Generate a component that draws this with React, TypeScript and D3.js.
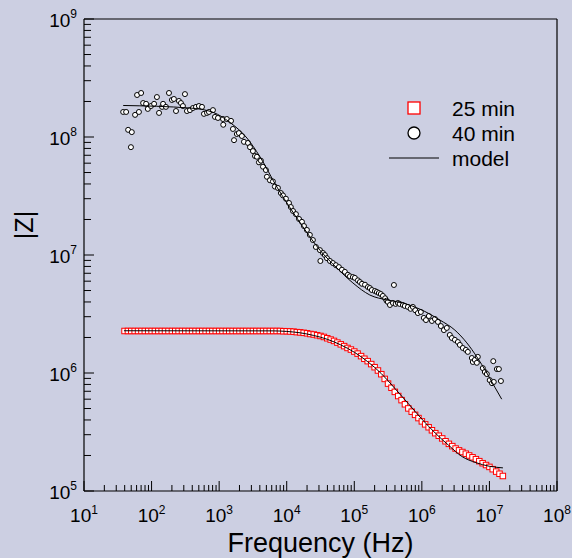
import React from "react";
import * as d3 from "d3";

// ---- data ----
const red25F = [
  39.8, 44.7, 50.1, 56.2, 63.1, 70.8, 79.4, 89.1,
  100, 112, 126, 141, 158, 178, 200, 224, 251, 282, 316, 355, 398, 447, 501, 562, 631, 708, 794, 891,
  1000, 1120, 1260, 1410, 1580, 1780, 2000, 2240, 2510, 2820, 3160, 3550, 3980, 4470, 5010, 5620, 6310, 7080, 7940, 8910,
  1e4, 1.12e4, 1.26e4, 1.41e4, 1.58e4, 1.78e4, 2e4, 2.24e4, 2.51e4, 2.82e4, 3.16e4, 3.55e4, 3.98e4, 4.47e4, 5.01e4, 5.62e4, 6.31e4, 7.08e4, 7.94e4, 8.91e4,
  1e5, 1.12e5, 1.26e5, 1.41e5, 1.58e5, 1.78e5, 2e5, 2.24e5, 2.51e5, 2.82e5, 3.16e5, 3.55e5, 3.98e5, 4.47e5, 5.01e5, 5.62e5, 6.31e5, 7.08e5, 7.94e5, 8.91e5,
  1e6, 1.12e6, 1.26e6, 1.41e6, 1.58e6, 1.78e6, 2e6, 2.24e6, 2.51e6, 2.82e6, 3.16e6, 3.55e6, 3.98e6, 4.47e6, 5.01e6, 5.62e6, 6.31e6, 7.08e6, 7.94e6, 8.91e6,
  1e7, 1.12e7, 1.26e7, 1.41e7, 1.58e7,
];
const red25Z = [
  2.27e6, 2.27e6, 2.27e6, 2.27e6, 2.27e6, 2.27e6, 2.27e6, 2.27e6,
  2.27e6, 2.27e6, 2.27e6, 2.27e6, 2.27e6, 2.27e6, 2.27e6, 2.27e6, 2.27e6, 2.27e6, 2.27e6, 2.27e6, 2.27e6, 2.27e6, 2.27e6, 2.27e6, 2.27e6, 2.27e6, 2.27e6, 2.27e6,
  2.27e6, 2.27e6, 2.27e6, 2.27e6, 2.27e6, 2.27e6, 2.27e6, 2.27e6, 2.27e6, 2.27e6, 2.27e6, 2.27e6, 2.27e6, 2.27e6, 2.27e6, 2.27e6, 2.27e6, 2.27e6, 2.27e6, 2.26e6,
  2.26e6, 2.25e6, 2.24e6, 2.22e6, 2.21e6, 2.19e6, 2.17e6, 2.14e6, 2.12e6, 2.09e6, 2.06e6, 2.02e6, 1.97e6, 1.92e6, 1.87e6, 1.81e6, 1.75e6, 1.69e6, 1.63e6, 1.58e6,
  1.52e6, 1.46e6, 1.39e6, 1.32e6, 1.26e6, 1.19e6, 1.12e6, 1.05e6, 9.77e5, 8.91e5, 8.13e5, 7.5e5, 6.92e5, 6.38e5, 5.89e5, 5.43e5, 5.01e5, 4.7e5, 4.42e5, 4.15e5,
  3.89e5, 3.67e5, 3.47e5, 3.27e5, 3.09e5, 2.94e5, 2.79e5, 2.64e5, 2.51e5, 2.4e5, 2.29e5, 2.21e5, 2.14e5, 2.07e5, 2.0e5, 1.93e5, 1.86e5, 1.79e5, 1.72e5, 1.66e5,
  1.6e5, 1.53e5, 1.46e5, 1.4e5, 1.34e5,
];

const black40F = [
  38, 42, 45, 49.5, 51, 57, 61, 65, 70, 75, 83, 88, 98, 109, 120, 129, 143, 148, 163, 181, 200, 214, 230, 254, 272, 291, 312, 334, 370, 409,
  454, 502, 557, 596, 661, 707, 810, 867, 960, 1140, 1150, 1300, 1500, 1600, 1660, 1830, 1960, 2170, 2330, 2670, 2860, 3160, 3390, 3620, 3880, 4150,
  4450, 4920, 5090, 5640, 6250, 6680, 7410, 8200, 8790, 9730, 10800, 11500, 12400, 13700, 15200, 16800, 18000, 19900, 22000, 24400, 27000, 31000,
  31500, 34400, 36700, 39400, 43600, 48200, 53400, 59200, 65600, 72600, 80400, 86100, 95300, 102000, 113000, 121000, 130000, 144000, 159000,
  170000, 182000, 202000, 216000, 231000, 247000, 265000, 286000, 300000, 314000, 337000, 373000, 386000, 410000, 442000, 470000, 524000, 560000,
  621000, 680000, 736000, 800000, 873000, 966000, 1.07e6, 1.15e6, 1.27e6, 1.41e6, 1.56e6, 1.73e6, 1.91e6, 2.12e6, 2.34e6, 2.59e6, 2.78e6,
  3.08e6, 3.41e6, 3.65e6, 4.04e6, 4.48e6, 4.79e6, 5.49e6, 5.68e6, 6.08e6, 6.51e6, 6.73e6, 7.98e6, 8.55e6, 9.16e6, 1.01e7, 1.09e7, 1.14e7,
  1.16e7, 1.29e7, 1.38e7, 1.48e7,
];
const black40Z = [
  1.63e8, 1.63e8, 1.15e8, 8.2e7, 1.1e8, 1.54e8, 2.27e8, 1.63e8, 2.36e8, 1.94e8, 1.91e8, 1.73e8, 1.83e8, 1.91e8, 2.18e8, 1.6e8, 1.8e8, 1.91e8, 1.8e8, 2.36e8, 2.06e8, 2.1e8, 1.66e8, 2.02e8, 1.94e8, 1.83e8, 2.31e8, 1.66e8, 1.69e8, 1.76e8,
  1.8e8, 1.83e8, 1.8e8, 1.57e8, 1.6e8, 1.63e8, 1.69e8, 1.48e8, 1.45e8, 1.42e8, 1.27e8, 1.42e8, 1.37e8, 1.17e8, 9.4e7, 1.06e8, 1.08e8, 1.02e8, 9.1e7, 8.9e7, 8.2e7, 7.6e7, 6.9e7, 6.8e7, 6.1e7, 6.3e7,
  5.6e7, 5.25e7, 4.6e7, 4.3e7, 4.2e7, 3.8e7, 3.7e7, 3.35e7, 3.2e7, 3.0e7, 2.76e7, 2.55e7, 2.36e7, 2.22e7, 2.02e7, 1.91e7, 1.76e7, 1.63e7, 1.48e7, 1.34e7, 1.17e7, 1.1e7,
  8.9e6, 1.04e7, 1.0e7, 9.4e6, 8.9e6, 8.55e6, 8.2e6, 7.9e6, 7.5e6, 7.2e6, 6.8e6, 6.6e6, 6.5e6, 6.4e6, 6.1e6, 5.9e6, 5.7e6, 5.6e6, 5.35e6,
  5.25e6, 5.05e6, 4.95e6, 4.86e6, 4.76e6, 4.67e6, 4.5e6, 4.3e6, 4.1e6, 4.0e6, 3.77e6, 3.92e6, 5.57e6, 3.85e6, 3.92e6, 3.85e6, 3.77e6, 3.7e6,
  3.63e6, 3.5e6, 3.63e6, 3.4e6, 3.22e6, 3.29e6, 2.93e6, 2.81e6, 3.04e6, 2.76e6, 2.87e6, 2.71e6, 2.5e6, 2.31e6, 2.41e6, 2.1e6, 1.98e6,
  1.91e6, 1.83e6, 1.73e6, 1.63e6, 1.57e6, 1.51e6, 1.34e6, 1.24e6, 1.29e6, 1.22e6, 1.37e6, 1.1e6, 1.02e6, 9.8e5, 8.7e5, 8.2e5, 1.26e6,
  8.4e5, 1.08e6, 1.08e6, 8.55e5,
];

const model25F = [39, 6310, 1e4, 1.585e4, 2.51e4, 3.98e4, 6.31e4, 1e5, 1.585e5, 2.51e5, 3.98e5, 6.31e5, 1e6, 1.585e6, 2.51e6, 3.98e6, 6.31e6, 1e7, 1.585e7];
const model25Z = [2.28e6, 2.275e6, 2.25e6, 2.19e6, 2.08e6, 1.93e6, 1.73e6, 1.5e6, 1.245e6, 9.89e5, 7.41e5, 5.5e5, 4.07e5, 3.09e5, 2.43e5, 1.95e5, 1.74e5, 1.62e5, 1.57e5];

const model40F = [38, 370, 810, 1495, 2580, 4020, 7160, 10070, 17400, 31000, 55300, 95300, 170000, 303000, 524000, 933000, 1.85e6, 3.08e6, 4.63e6, 6.51e6, 9.16e6, 1.2e7, 1.52e7];
const model40Z = [1.85e8, 1.76e8, 1.62e8, 1.31e8, 9.8e7, 6.8e7, 3.77e7, 2.76e7, 1.73e7, 1.1e7, 7.76e6, 5.8e6, 4.58e6, 4.16e6, 3.92e6, 3.48e6, 2.81e6, 2.31e6, 1.8e6, 1.37e6, 1.0e6, 7.6e5, 6.0e5];

const legendLabels = ["25 min", "40 min", "model"];
const xTitle = "Frequency (Hz)";
const yTitle = "|Z|";

const FONT = "'Liberation Sans', Arial, Helvetica, sans-serif";
const BG = "#cccfe2";

export default function App() {
  const W = 572, H = 558;
  const L = 84, R = 557, T = 19, B = 491;
  const x = d3.scaleLog().domain([10, 1e8]).range([L, R]);
  const y = d3.scaleLog().domain([1e5, 1e9]).range([B, T]);
  const isMajor = (t: number) => Math.abs(Math.log10(t) - Math.round(Math.log10(t))) < 1e-9;
  const xTicks = x.ticks();
  const yTicks = y.ticks();

  const line = d3.line<[number, number]>()
    .x((d) => x(d[0]))
    .y((d) => y(d[1]))
    .curve(d3.curveMonotoneX);

  const m25 = model25F.map((f, i) => [f, model25Z[i]] as [number, number]);
  const m40 = model40F.map((f, i) => [f, model40Z[i]] as [number, number]);

  return (
    <svg width={W} height={H} style={{ position: "absolute", left: 0, top: 0 }} fontFamily={FONT}>
      <rect x={0} y={0} width={W} height={H} fill={BG} />
      {/* data: 25 min */}
      <g>
        {red25F.map((f, i) => (
          <rect key={"r" + i} x={x(f) - 2.75} y={y(red25Z[i]) - 2.75} width={5.5} height={5.5}
            fill="#ffffff" stroke="#ff0000" strokeWidth={1} />
        ))}
      </g>
      {/* data: 40 min */}
      <g>
        {black40F.map((f, i) => (
          <circle key={"b" + i} cx={x(f)} cy={y(black40Z[i])} r={2.5}
            fill="#ffffff" stroke="#000000" strokeWidth={1} />
        ))}
      </g>
      {/* model lines */}
      <path d={line(m25) || ""} fill="none" stroke="#000" strokeWidth={1} />
      <path d={line(m40) || ""} fill="none" stroke="#000" strokeWidth={1} />

      {/* frame */}
      <line x1={L} x2={R} y1={T} y2={T} stroke="#000" strokeWidth={1.2} />
      <line x1={R} x2={R} y1={T} y2={B} stroke="#000" strokeWidth={1.2} />
      <line x1={L} x2={R} y1={B} y2={B} stroke="#000" strokeWidth={1.2} />
      <line x1={L} x2={L} y1={T} y2={B} stroke="#000" strokeWidth={1.2} />

      {/* x ticks */}
      {xTicks.map((t, i) => (
        <line key={"xt" + i} x1={x(t)} x2={x(t)} y1={B} y2={B - (isMajor(t) ? 10 : 6)} stroke="#000" strokeWidth={1} />
      ))}
      {xTicks.filter(isMajor).map((t, i) => (
        <text key={"xl" + i} x={x(t)} y={522} textAnchor="middle" fontSize={19} fill="#000">
          10<tspan dy={-8} fontSize={12}>{Math.round(Math.log10(t))}</tspan>
        </text>
      ))}
      {/* y ticks */}
      {yTicks.map((t, i) => (
        <line key={"yt" + i} x1={L} x2={L + (isMajor(t) ? 10 : 7)} y1={y(t)} y2={y(t)} stroke="#000" strokeWidth={1} />
      ))}
      {yTicks.filter(isMajor).map((t, i) => (
        <text key={"yl" + i} x={77} y={y(t) + 8} textAnchor="end" fontSize={19} fill="#000">
          10<tspan dy={-9} fontSize={12}>{Math.round(Math.log10(t))}</tspan>
        </text>
      ))}

      {/* titles */}
      <text x={(L + R) / 2} y={552} textAnchor="middle" fontSize={27} fill="#000">{xTitle}</text>
      <text transform="translate(33,225) rotate(-90)" textAnchor="middle" fontSize={25} fill="#000">{yTitle}</text>

      {/* legend */}
      <rect x={408} y={102} width={12} height={12} fill="#fff" stroke="#ff0000" strokeWidth={1.3} />
      <circle cx={414} cy={133} r={6} fill="#fff" stroke="#000" strokeWidth={1.3} />
      <line x1={389} x2={439} y1={158} y2={158} stroke="#000" strokeWidth={1} />
      {legendLabels.map((s, i) => (
        <text key={"lg" + i} x={452} y={116 + i * 25} fontSize={21} fill="#000">{s}</text>
      ))}
    </svg>
  );
}
